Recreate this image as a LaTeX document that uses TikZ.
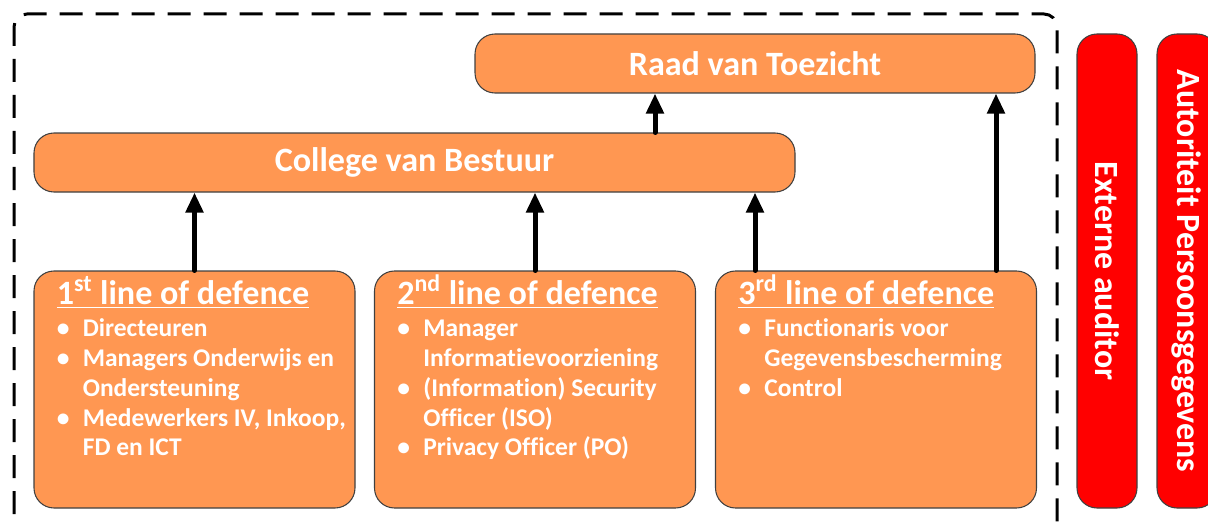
\documentclass[tikz,border=0pt]{standalone}
\usepackage{fontspec}
\setmainfont{Carlito}[Ligatures=CommonOff]
\usetikzlibrary{arrows.meta}
\definecolor{boxorange}{RGB}{255,151,82}
\definecolor{boxred}{RGB}{255,0,0}
\newcommand{\lod}[2]{\underline{#1\textsuperscript{#2} line of defence}}
\begin{document}
\begin{tikzpicture}[every node/.style={text=white,inner sep=0pt},
blok/.style={draw=black!75,line width=.6pt,fill=boxorange,rounded corners=.4cm,minimum height=1.18cm,font=\bfseries\fontsize{19.4}{23}\selectfont},
lijn/.style={blok,minimum width=6.42cm,minimum height=4.74cm},
extern/.style={blok,fill=boxred,minimum width=9.48cm,minimum height=1.2cm,rotate=-90,font=\bfseries\fontsize{19.3}{23}\selectfont},
pijl/.style={line width=.1cm,line cap=round,-{Triangle[width=.34cm,length=.4cm]}},
kop/.style={anchor=base west,font=\bfseries\fontsize{19.4}{23}\selectfont},
lijst/.style={anchor=base west,font=\bfseries\fontsize{14.5}{17}\selectfont}]
\useasboundingbox (0,0) rectangle (24.16,-10.48);
\draw[line width=.06cm,dash pattern=on .46cm off .26cm,rounded corners=.26cm](.28,-11)--(.28,-.28)--(21.14,-.28)--(21.14,-11);
\node[blok,minimum width=11.2cm](raad) at (15.1,-1.27){Raad van Toezicht};
\node[blok,minimum width=15.22cm](cvb) at (8.29,-3.25){College van Bestuur};
\node[lijn](l1) at (3.89,-7.79){};
\node[lijn](l2) at (10.7,-7.79){};
\node[lijn](l3) at (17.52,-7.79){};
\node[extern](ext) at (22.14,-5.42){Externe auditor};
\node[extern](ap) at (23.74,-5.42){Autoriteit Persoonsgegevens};
\node[kop](k1) at ([shift={(.46,-.68)}]l1.north west){\lod{1}{st}};
\node[kop](k2) at ([shift={(.46,-.68)}]l2.north west){\lod{2}{nd}};
\node[kop](k3) at ([shift={(.46,-.68)}]l3.north west){\lod{3}{rd}};
\node[lijst](t1) at ([shift={(.46,-1.32)}]l1.north west){\begin{tabular}[t]{@{}p{5.2mm}@{}l@{}}
\textbullet&Directeuren\\
\textbullet&Managers Onderwijs en\\
&Ondersteuning\\
\textbullet&Medewerkers IV, Inkoop,\\
&FD en ICT\end{tabular}};
\node[lijst](t2) at ([shift={(.46,-1.32)}]l2.north west){\begin{tabular}[t]{@{}p{5.2mm}@{}l@{}}
\textbullet&Manager\\
&Informatievoorziening\\
\textbullet&(Information) Security\\
&Officer (ISO)\\
\textbullet&Privacy Officer (PO)\end{tabular}};
\node[lijst](t3) at ([shift={(.46,-1.32)}]l3.north west){\begin{tabular}[t]{@{}p{5.2mm}@{}l@{}}
\textbullet&Functionaris voor\\
&Gegevensbescherming\\
\textbullet&Control\end{tabular}};
\coordinate(a3) at ([xshift=-2.42cm]l3.north);
\coordinate(b3) at ([xshift=2.4cm]l3.north);
\coordinate(c1) at ([xshift=4.81cm]cvb.north);
\draw[pijl](l1.north)--(l1.north|-cvb.south);
\draw[pijl](l2.north)--(l2.north|-cvb.south);
\draw[pijl](a3)--(a3|-cvb.south);
\draw[pijl](b3)--(b3|-raad.south);
\draw[pijl](c1)--(c1|-raad.south);
\end{tikzpicture}
\end{document}
